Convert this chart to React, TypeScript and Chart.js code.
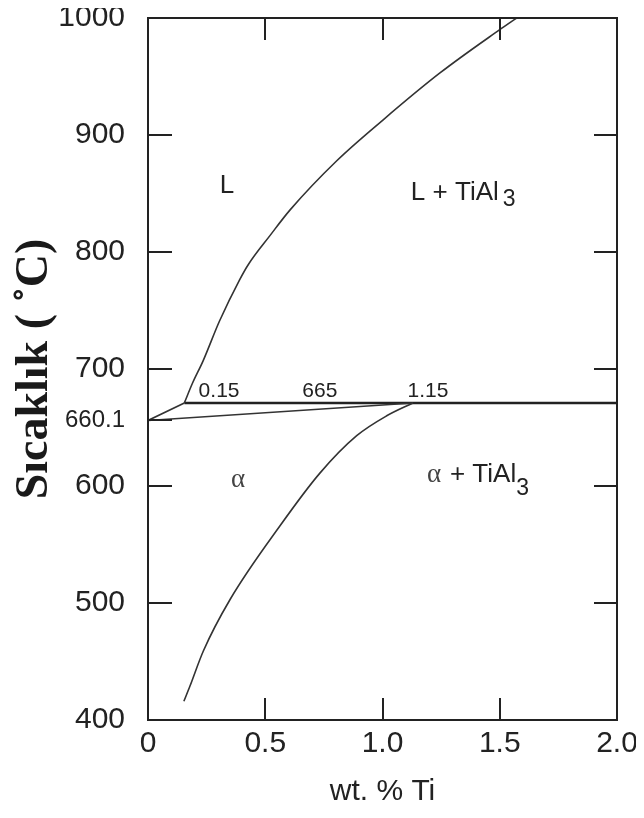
import React, { useEffect, useRef } from 'react';
import { Chart, registerables } from 'chart.js';
Chart.register(...registerables);

// Axis ticks
const xTickValues = [0, 0.5, 1.0, 1.5, 2.0];
const xTickLabels = ['0', '0.5', '1.0', '1.5', '2.0'];
const yTickValues = [400, 500, 600, 656, 700, 800, 900, 1000];
const yTickLabels = ['400', '500', '600', '660.1', '700', '800', '900', '1000'];

// Phase boundaries (wt.% Ti, temperature °C) as drawn
const liquidusTi = [0.155, 0.19, 0.235, 0.305, 0.39, 0.43, 0.52, 0.606, 0.805, 1.003, 1.245, 1.5, 1.572];
const liquidusT = [671, 688, 707, 741, 776, 790, 814, 836, 878, 913, 953, 990, 1000];
const solvusTi = [0.153, 0.179, 0.236, 0.35, 0.563, 0.733, 0.89, 1.018, 1.13];
const solvusT = [416, 429, 459, 503, 566, 611, 643, 660, 671];
const solidusTi = [0.155, 0, 1.13];
const solidusT = [671, 656, 671];
const peritecticTi = [0.155, 2.0];
const peritecticT = [671, 671];

// Text annotations
const regionTexts = ['L', 'α'];
const regionTi = [0.337, 0.384];
const regionT = [850.4, 599.1];
const pointTexts = ['0.15', '665', '1.15'];
const pointTi = [0.303, 0.733, 1.194];
const pointT = [676.3, 676.3, 676.3];
const compoundMain = ['L + TiAl', '+ TiAl'];
const compoundPrefix = ['', 'α'];
const compoundSub = ['3', '3'];
const compoundTi = [1.121, 1.19];
const compoundT = [844.4, 603.4];

const SANS = '"Liberation Sans", Arial, sans-serif';
const SERIF = '"Liberation Serif", "Times New Roman", serif';

const framePlugin = {
  id: 'frameAndText',
  afterDatasetsDraw(chart: any) {
    const { ctx, chartArea } = chart;
    const { left, right, top, bottom } = chartArea;
    const xs = chart.scales.x;
    const ys = chart.scales.y;
    ctx.save();
    ctx.strokeStyle = '#222';
    ctx.lineWidth = 2;
    ctx.strokeRect(left, top, right - left, bottom - top);
    const seg = (x1: number, y1: number, x2: number, y2: number) => {
      ctx.beginPath();
      ctx.moveTo(x1, y1);
      ctx.lineTo(x2, y2);
      ctx.stroke();
    };
    xs.ticks.forEach((t: any) => {
      const px = Math.round(xs.getPixelForValue(t.value));
      if (px <= left + 2 || px >= right - 2) return;
      seg(px, bottom, px, bottom - 22);
      seg(px, top, px, top + 22);
    });
    ys.ticks.forEach((t: any) => {
      const py = Math.round(ys.getPixelForValue(t.value));
      if (py <= top + 2 || py >= bottom - 2) return;
      seg(left, py, left + 24, py);
      if (t.value % 100 === 0) seg(right, py, right - 23, py);
    });

    ctx.fillStyle = '#222';
    ctx.textBaseline = 'alphabetic';
    regionTexts.forEach((txt, i) => {
      ctx.textAlign = 'center';
      if (txt === 'α') {
        ctx.font = `27px ${SERIF}`;
        ctx.fillStyle = '#444';
      } else {
        ctx.font = `26px ${SANS}`;
        ctx.fillStyle = '#222';
      }
      ctx.fillText(txt, xs.getPixelForValue(regionTi[i]), ys.getPixelForValue(regionT[i]));
    });
    ctx.fillStyle = '#222';
    ctx.font = `21px ${SANS}`;
    pointTexts.forEach((txt, i) => {
      ctx.textAlign = 'center';
      ctx.fillText(txt, xs.getPixelForValue(pointTi[i]), ys.getPixelForValue(pointT[i]));
    });
    compoundMain.forEach((txt, i) => {
      ctx.textAlign = 'left';
      let px = xs.getPixelForValue(compoundTi[i]);
      const py = ys.getPixelForValue(compoundT[i]);
      if (compoundPrefix[i]) {
        ctx.font = `27px ${SERIF}`;
        ctx.fillStyle = '#444';
        ctx.fillText(compoundPrefix[i], px, py);
        px += ctx.measureText(compoundPrefix[i] + ' ').width + 2;
      }
      ctx.font = `26px ${SANS}`;
      ctx.fillStyle = '#222';
      ctx.fillText(txt, px, py);
      px += ctx.measureText(txt).width + (i === 0 ? 4 : 0);
      ctx.font = `23px ${SANS}`;
      ctx.fillText(compoundSub[i], px, py + (i === 0 ? 6 : 13));
    });
    ctx.restore();
  },
};

export default function App() {
  const ref = useRef<HTMLCanvasElement>(null);
  useEffect(() => {
    const canvas = ref.current!;
    const toPts = (a: number[], b: number[]) => a.map((v, i) => ({ x: v, y: b[i] }));
    const lineDs = (data: any[], width: number, smooth: boolean, color = '#333') => ({
      data,
      showLine: true,
      borderColor: color,
      backgroundColor: color,
      borderWidth: width,
      pointRadius: 0,
      tension: smooth ? 0.4 : 0,
      cubicInterpolationMode: smooth ? 'monotone' : 'default',
      fill: false,
    });
    const chart = new Chart(canvas, {
      type: 'scatter',
      data: {
        datasets: [
          lineDs(toPts(liquidusTi, liquidusT), 1.6, true),
          lineDs(toPts(solvusTi, solvusT), 1.6, true),
          lineDs(toPts(solidusTi, solidusT), 1.6, false),
          lineDs(toPts(peritecticTi, peritecticT), 2.6, false, '#222'),
        ],
      },
      options: {
        animation: false,
        responsive: false,
        layout: { padding: { top: 10, right: 19, bottom: 0, left: 0 } },
        plugins: { legend: { display: false }, tooltip: { enabled: false } },
        scales: {
          x: {
            type: 'linear',
            min: 0,
            max: 2,
            grid: { display: false, drawTicks: false },
            border: { display: false },
            afterBuildTicks: (s: any) => {
              s.ticks = xTickValues.map((v) => ({ value: v }));
            },
            afterFit: (s: any) => {
              s.height = 90;
              s.paddingLeft = 0;
              s.paddingRight = 0;
            },
            ticks: {
              autoSkip: false,
              maxRotation: 0,
              padding: 6,
              color: '#222',
              font: { family: SANS, size: 30 },
              callback: (_v: any, i: number) => xTickLabels[i],
            },
            title: {
              display: true,
              text: 'wt. % Ti',
              color: '#222',
              font: { family: SANS, size: 30 },
              padding: { top: 0, bottom: 0 },
            },
          },
          y: {
            type: 'linear',
            min: 400,
            max: 1000,
            grid: { display: false, drawTicks: false },
            border: { display: false },
            afterBuildTicks: (s: any) => {
              s.ticks = yTickValues.map((v) => ({ value: v }));
            },
            afterFit: (s: any) => {
              s.width = 140;
              s.paddingTop = 0;
              s.paddingBottom = 0;
            },
            ticks: {
              autoSkip: false,
              padding: 23,
              color: '#222',
              font: (c: any) => ({ family: SANS, size: c.tick && c.tick.value === 656 ? 24 : 30 }),
              callback: (_v: any, i: number) => yTickLabels[i],
            },
            title: {
              display: true,
              text: 'Sıcaklık ( ˚C)',
              color: '#1a1a1a',
              font: { family: SERIF, size: 46, weight: 'bold' },
              padding: { top: 0, bottom: 0 },
            },
          },
        },
      } as any,
      plugins: [framePlugin],
    });
    return () => chart.destroy();
  }, []);
  return (
    <div style={{ width: 628, height: 802 }}>
      <canvas ref={ref} width={628} height={802} style={{ display: 'block', width: 628, height: 802 }} />
    </div>
  );
}
